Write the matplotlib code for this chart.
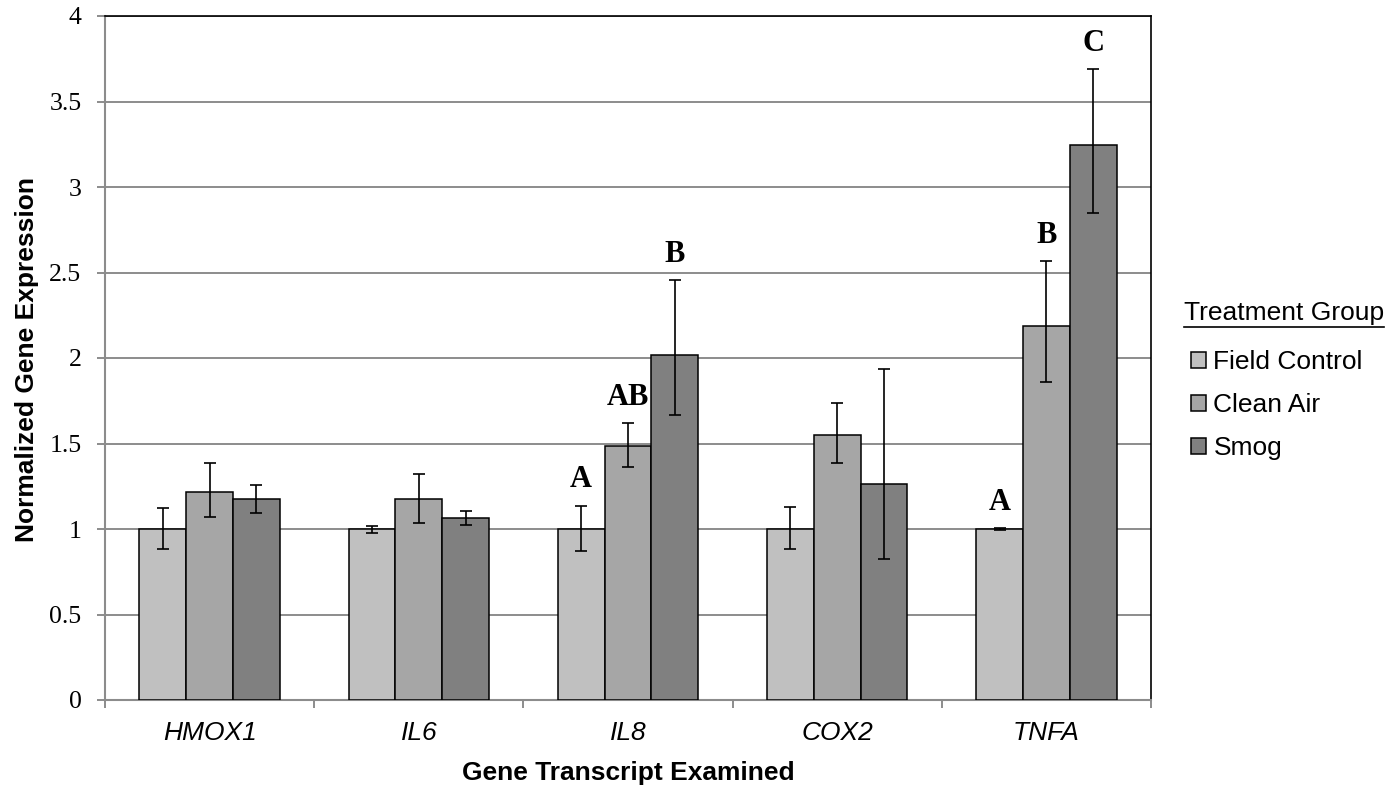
import matplotlib
matplotlib.use("Agg")
import matplotlib.pyplot as plt
import numpy as np
from matplotlib.lines import Line2D

# Gene transcripts and treatment groups
genes = ["HMOX1", "IL6", "IL8", "COX2", "TNFA"]
groups = ["Field Control", "Clean Air", "Smog"]

# Mean normalized expression per group
field_control = [1.0, 1.0, 1.0, 1.0, 1.0]
clean_air = [1.216, 1.175, 1.485, 1.552, 2.188]
smog = [1.175, 1.065, 2.02, 1.262, 3.243]

# Error bar ends (lower / upper) per group
field_control_lo = [0.885, 0.977, 0.872, 0.882, 0.995]
field_control_hi = [1.12, 1.02, 1.137, 1.13, 1.006]
clean_air_lo = [1.07, 1.037, 1.361, 1.384, 1.862]
clean_air_hi = [1.384, 1.322, 1.618, 1.737, 2.569]
smog_lo = [1.094, 1.025, 1.668, 0.823, 2.85]
smog_hi = [1.257, 1.103, 2.454, 1.936, 3.688]

# Significance letters per group
field_control_sig = ["", "", "A", "", "A"]
clean_air_sig = ["", "", "AB", "", "B"]
smog_sig = ["", "", "B", "", "C"]

y_ticks = [0, 0.5, 1, 1.5, 2, 2.5, 3, 3.5, 4]
y_tick_labels = ["0", "0.5", "1", "1.5", "2", "2.5", "3", "3.5", "4"]

colors = ["#c0c0c0", "#a6a6a6", "#808080"]
grid_gray = "#8c8c8c"

W, H = 1393, 788
fig = plt.figure(figsize=(W / 100, H / 100), dpi=100)
ax = fig.add_axes([105 / W, 1 - 700 / H, (1151 - 105) / W, (700 - 16) / H])

x = np.arange(len(genes))
bw = 0.2235
series = [
    (field_control, field_control_lo, field_control_hi, field_control_sig),
    (clean_air, clean_air_lo, clean_air_hi, clean_air_sig),
    (smog, smog_lo, smog_hi, smog_sig),
]

handles = []
for i, (vals, lo, hi, sig) in enumerate(series):
    pos = x + (i - 1) * bw
    vals = np.array(vals)
    yerr = np.vstack([vals - np.array(lo), np.array(hi) - vals])
    bars = ax.bar(pos, vals, width=bw, color=colors[i], edgecolor="black",
                  linewidth=1.1, zorder=3, label=groups[i])
    handles.append(bars)
    ax.errorbar(pos, vals, yerr=yerr, fmt="none", ecolor="black",
                elinewidth=1.2, capsize=4.3, capthick=1.2, zorder=4)
    for p, top, s in zip(pos, hi, sig):
        if s:
            ax.annotate(s, xy=(p, top), xytext=(0, 8), textcoords="offset points",
                        ha="center", va="bottom", fontsize=22, fontweight="bold",
                        family="Liberation Serif", zorder=5)

ax.set_xlim(-0.5, len(genes) - 0.5)
ax.set_ylim(0, 4)

# Horizontal gridlines
ax.set_yticks(y_ticks)
ax.set_yticklabels(y_tick_labels, family="Liberation Serif", fontsize=18.5)
ax.yaxis.grid(True, color=grid_gray, linewidth=1.4, zorder=0)
ax.set_axisbelow(True)
ax.tick_params(axis="y", direction="out", length=6, width=1.4, color=grid_gray,
               pad=11)

# Category boundaries as ticks, names centred between them
ax.set_xticks(np.arange(-0.5, len(genes)), minor=False)
ax.set_xticklabels([""] * (len(genes) + 1))
ax.set_xticks(x, minor=True)
ax.set_xticklabels(genes, minor=True, family="Liberation Sans", style="italic",
                   fontsize=19)
ax.tick_params(axis="x", which="major", direction="out", length=6, width=1.4,
               color=grid_gray)
ax.tick_params(axis="x", which="minor", length=0, pad=15)

for side in ("left", "bottom"):
    ax.spines[side].set_color(grid_gray)
    ax.spines[side].set_linewidth(1.5)
for side in ("top", "right"):
    ax.spines[side].set_color("black")
    ax.spines[side].set_linewidth(1.2)

fig.text(628 / W, 1 - 773 / H, "Gene Transcript Examined", ha="center",
         va="center", fontsize=19, fontweight="bold", family="Liberation Sans")
fig.text(27 / W, 1 - 360 / H, "Normalized Gene Expression", ha="center",
         va="center", rotation=90, fontsize=19, fontweight="bold",
         family="Liberation Sans")

leg = fig.legend(handles=handles, labels=groups, loc="center left",
                 bbox_to_anchor=(1191 / W, 1 - 405 / H), frameon=False,
                 prop={"family": "Liberation Sans", "size": 19},
                 handlelength=0.55, handleheight=0.55, handletextpad=0.3,
                 labelspacing=0.72, borderpad=0, borderaxespad=0)

title = fig.text(1184 / W, 1 - 313 / H, "Treatment Group", ha="left",
                 va="center", fontsize=19, family="Liberation Sans")
fig.canvas.draw()
bb = title.get_window_extent()
uy = bb.y0 - 2
fig.add_artist(Line2D([bb.x0 / W, bb.x1 / W], [uy / H, uy / H],
                      transform=fig.transFigure, color="black", linewidth=1.2))

fig.savefig("out.png", dpi=100)
